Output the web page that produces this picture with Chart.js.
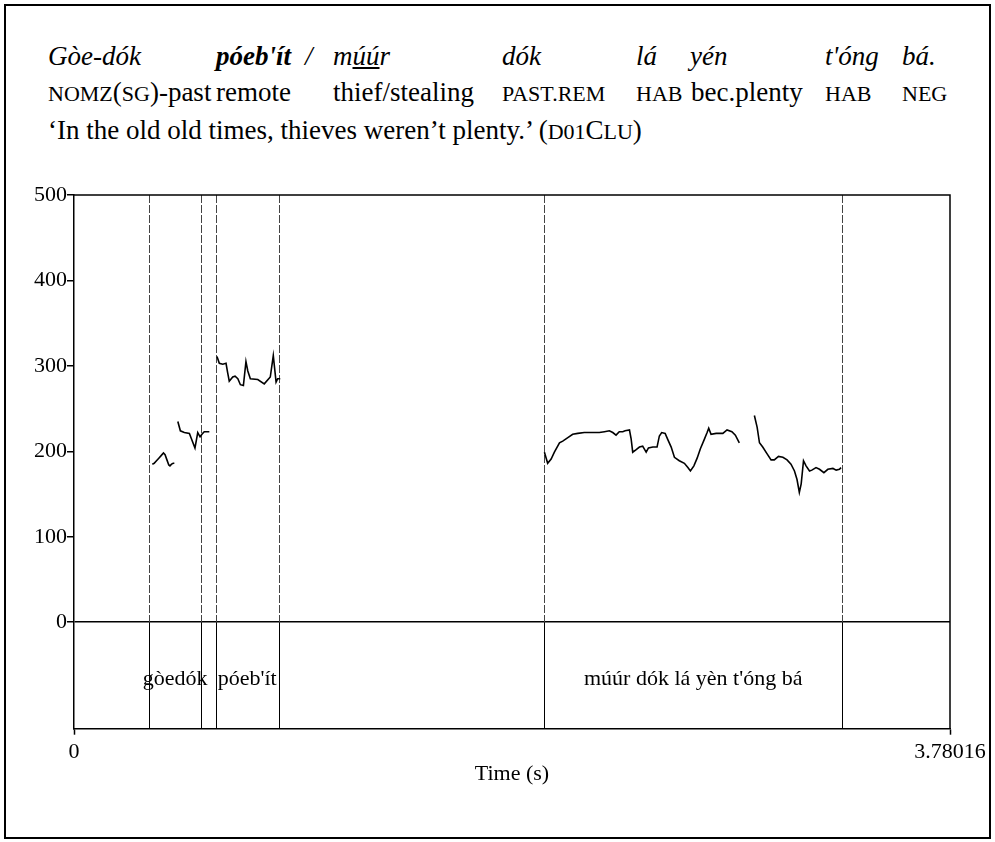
<!DOCTYPE html>
<html>
<head>
<meta charset="utf-8">
<script src="https://cdn.jsdelivr.net/npm/chart.js@4"></script>
<style>
  body { margin: 0; background: #fff; }
  #wrap { position: relative; width: 995px; height: 842px; overflow: hidden; font-family: "Liberation Serif", "Times New Roman", serif; color: #000; }
  #frame { position: absolute; left: 4px; top: 4px; width: 987px; height: 835px; box-sizing: border-box; border: 2px solid #000; }
  .w { position: absolute; white-space: nowrap; font-size: 27px; line-height: 30px; }
  .sc { font-size: 22px; }
  .it { font-style: italic; }
  .bi { font-style: italic; font-weight: bold; }
  .l1 { top: 41px; }
  .l2 { top: 77px; }
  .l3 { top: 115px; }
  canvas { position: absolute; left: 0; top: 0; }
</style>
</head>
<body>
<div id="wrap">
  <div id="frame"></div>

  <span class="w l1 it" style="left:48px">Gòe-dók</span>
  <span class="w l1 bi" style="left:216px">póeb'ít</span>
  <span class="w l1 it" style="left:305px">/</span>
  <span class="w l1 it" style="left:333px">m<u>úú</u>r</span>
  <span class="w l1 it" style="left:502px">dók</span>
  <span class="w l1 it" style="left:636px">lá</span>
  <span class="w l1 it" style="left:690px">yén</span>
  <span class="w l1 it" style="left:825px">t'óng</span>
  <span class="w l1 it" style="left:902px">bá.</span>

  <span class="w l2" style="left:48px"><span class="sc">NOMZ</span>(<span class="sc">SG</span>)-past</span>
  <span class="w l2" style="left:216px">remote</span>
  <span class="w l2" style="left:333px">thief/stealing</span>
  <span class="w l2" style="left:502px"><span class="sc">PAST.REM</span></span>
  <span class="w l2" style="left:636px"><span class="sc">HAB</span></span>
  <span class="w l2" style="left:691px">bec.plenty</span>
  <span class="w l2" style="left:825px"><span class="sc">HAB</span></span>
  <span class="w l2" style="left:902px"><span class="sc">NEG</span></span>

  <span class="w l3" style="left:48px">‘In the old old times, thieves weren’t plenty.’ (<span class="sc">D01</span>C<span class="sc">LU</span>)</span>

  <canvas id="pitchChart" width="995" height="842"></canvas>
</div>

<script>
const ctxPitch = document.getElementById('pitchChart')

// axes
const xMax = 3.78016
const yMax = 500
const yMin = -124.6   // room under 0 for the text tier
const yTicks = [0, 100, 200, 300, 400, 500]
const xTicks = [0, 3.78016]

// interval tier
const boundaries = [0.324, 0.549, 0.612, 0.883, 2.030, 3.314]
const tierLabels = ['gòedók', "póeb'ít", "múúr dók lá yèn t'óng bá"]
const tierStart = [0.324, 0.612, 2.030]
const tierEnd = [0.549, 0.883, 3.314]

// pitch (Hz), one pair of arrays per voiced stretch
const seg1Time = [0.338, 0.346, 0.356, 0.366, 0.376, 0.386, 0.393, 0.401, 0.409, 0.414, 0.421, 0.428, 0.433]
const seg1Hz = [185, 186, 189, 192, 195, 198, 196, 190, 184, 183, 185, 186, 186]

const seg2Time = [0.448, 0.459, 0.476, 0.498, 0.505, 0.522, 0.534, 0.544, 0.552, 0.562, 0.584]
const seg2Hz = [235, 224, 222, 221, 216, 204, 222, 217, 220, 223, 223]

const seg3Time = [0.617, 0.627, 0.642, 0.656, 0.663, 0.670, 0.685, 0.695, 0.707, 0.718, 0.731, 0.742, 0.750, 0.761, 0.793, 0.821, 0.847, 0.860, 0.872, 0.879, 0.890]
const seg3Hz = [311, 303, 302, 303, 292, 282, 287, 288, 285, 278, 277, 305, 294, 285, 284, 279, 287, 312, 281, 285, 285]

const seg4Time = [2.030, 2.044, 2.059, 2.073, 2.095, 2.109, 2.131, 2.152, 2.174, 2.202, 2.231, 2.267, 2.289, 2.310, 2.325, 2.339, 2.353, 2.368, 2.378, 2.397, 2.404, 2.411, 2.426, 2.440, 2.454, 2.469, 2.479, 2.498, 2.516, 2.526, 2.536, 2.551, 2.562, 2.577, 2.591, 2.612, 2.634, 2.649, 2.660, 2.675, 2.689, 2.703, 2.720, 2.732, 2.739, 2.749, 2.771, 2.800, 2.818, 2.839, 2.854, 2.871]
const seg4Hz = [199, 186, 191, 199, 210, 212, 216, 220, 221, 222, 222, 222, 223, 224, 222, 219, 223, 223, 224, 225, 215, 199, 202, 205, 206, 199, 204, 205, 205, 218, 222, 221, 214, 205, 193, 189, 186, 181, 177, 183, 192, 203, 214, 222, 227, 220, 221, 221, 225, 223, 219, 210]

const seg5Time = [2.936, 2.948, 2.958, 2.972, 2.991, 3.008, 3.022, 3.040, 3.059, 3.077, 3.094, 3.109, 3.120, 3.130, 3.138, 3.148, 3.159, 3.174, 3.184, 3.202, 3.217, 3.236, 3.253, 3.275, 3.289, 3.303, 3.310]
const seg5Hz = [242, 228, 210, 205, 197, 190, 190, 194, 193, 190, 185, 177, 167, 152, 162, 189, 183, 177, 178, 181, 179, 175, 179, 180, 178, 179, 181]

const segments = [
  [seg1Time, seg1Hz],
  [seg2Time, seg2Hz],
  [seg3Time, seg3Hz],
  [seg4Time, seg4Hz],
  [seg5Time, seg5Hz]
]

const datasets = segments.map(([t, f]) => ({
  data: t.map((v, i) => ({ x: v, y: f[i] })),
  borderColor: '#000',
  borderWidth: 1.6,
  pointRadius: 0,
  tension: 0,
  fill: false
}))

const serif = '"Liberation Serif", "Times New Roman", serif'

// boundaries, frame and tier text
const tierPlugin = {
  id: 'tierPlugin',
  beforeDatasetsDraw(chart) {
    const { ctx, chartArea: a, scales: { x, y } } = chart
    const y0 = y.getPixelForValue(0)
    ctx.save()
    ctx.lineWidth = 1
    for (const b of boundaries) {
      const px = Math.round(x.getPixelForValue(b)) + 0.5
      ctx.strokeStyle = '#444'
      ctx.setLineDash([8, 2])
      ctx.beginPath()
      ctx.moveTo(px, a.top)
      ctx.lineTo(px, y0)
      ctx.stroke()
      ctx.strokeStyle = '#000'
      ctx.setLineDash([])
      ctx.beginPath()
      ctx.moveTo(px, y0)
      ctx.lineTo(px, a.bottom)
      ctx.stroke()
    }
    ctx.restore()
  },
  afterDraw(chart) {
    const { ctx, chartArea: a, scales: { x, y } } = chart
    ctx.save()
    ctx.strokeStyle = '#000'
    ctx.lineWidth = 1.5
    ctx.beginPath()
    ctx.moveTo(a.left, a.top)
    ctx.lineTo(a.right, a.top)
    ctx.lineTo(a.right, a.bottom)
    ctx.stroke()

    ctx.fillStyle = '#000'
    ctx.font = '22px ' + serif
    ctx.textAlign = 'center'
    ctx.textBaseline = 'middle'
    const ty = y.getPixelForValue(yMin / 2) + 4
    for (let i = 0; i < tierLabels.length; i++) {
      const cx = (x.getPixelForValue(tierStart[i]) + x.getPixelForValue(tierEnd[i])) / 2
      ctx.fillText(tierLabels[i], cx, ty)
    }
    ctx.restore()
  }
}

new Chart(ctxPitch, {
  type: 'line',
  data: { datasets: datasets },
  plugins: [tierPlugin],
  options: {
    responsive: false,
    animation: false,
    layout: { padding: { top: 195, right: 45, bottom: 0, left: 0 } },
    plugins: {
      legend: { display: false },
      tooltip: { enabled: false }
    },
    scales: {
      x: {
        type: 'linear',
        min: 0,
        max: xMax,
        afterFit: (scale) => { scale.height = 113.3 },
        afterBuildTicks: (scale) => { scale.ticks = xTicks.map(v => ({ value: v })) },
        ticks: {
          color: '#000',
          font: { family: serif, size: 22 },
          padding: 4,
          maxRotation: 0,
          autoSkip: false,
          callback: (v) => String(v)
        },
        grid: { drawOnChartArea: false, tickLength: 6, tickColor: '#000', tickWidth: 1.5 },
        border: { color: '#000', width: 1.5 },
        title: {
          display: true,
          text: 'Time (s)',
          color: '#000',
          font: { family: serif, size: 22 },
          padding: { top: 0, bottom: 55 }
        }
      },
      y: {
        min: yMin,
        max: yMax,
        afterFit: (scale) => { scale.width = 74 },
        afterBuildTicks: (scale) => { scale.ticks = yTicks.map(v => ({ value: v })) },
        ticks: {
          color: '#000',
          font: { family: serif, size: 22 },
          padding: 0
        },
        grid: {
          color: (c) => (c.tick && c.tick.value === 0) ? '#000' : 'rgba(0,0,0,0)',
          lineWidth: 1.5,
          tickLength: 7,
          tickColor: '#000',
          tickWidth: 1.5
        },
        border: { color: '#000', width: 1.5 }
      }
    }
  }
})
</script>
</body>
</html>
